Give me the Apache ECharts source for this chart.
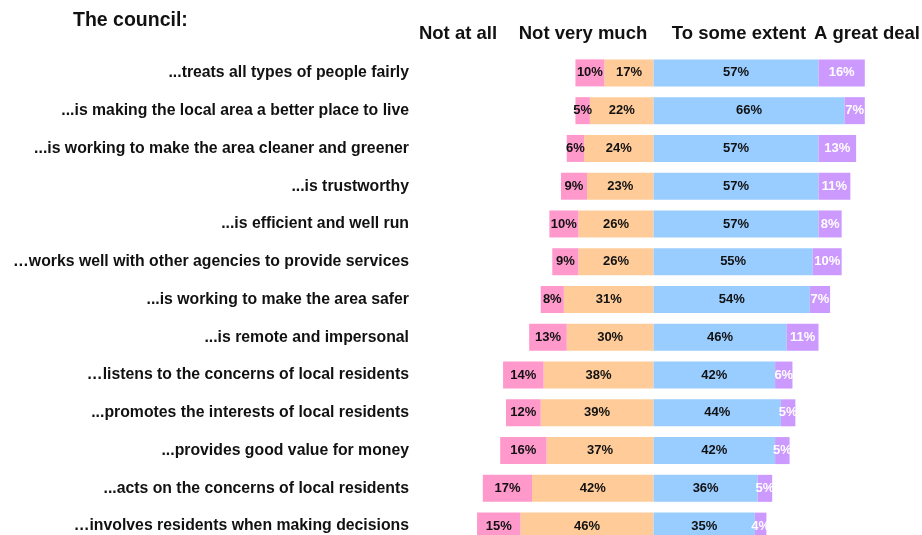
<!DOCTYPE html>
<html>
<head>
<meta charset="utf-8">
<script src="https://cdn.jsdelivr.net/npm/echarts@6/dist/echarts.min.js"></script>
<style>
  html, body { margin: 0; padding: 0; background: #fff; }
  #chart { width: 922px; height: 535px; }
</style>
</head>
<body>
<div id="chart"></div>
<script>
// Survey statements about the council, top to bottom
const categories = [
  '...treats all types of people fairly',
  '...is making the local area a better place to live',
  '...is working to make the area cleaner and greener',
  '...is trustworthy',
  '...is efficient and well run',
  '\u2026works well with other agencies to provide services',
  '...is working to make the area safer',
  '...is remote and impersonal',
  '\u2026listens to the concerns of local residents',
  '...promotes the interests of local residents',
  '...provides good value for money',
  '...acts on the concerns of local residents',
  '\u2026involves residents when making decisions'
];

// Percentages per response option
const notAtAll     = [10, 5, 6, 9, 10, 9, 8, 13, 14, 12, 16, 17, 15];
const notVeryMuch  = [17, 22, 24, 23, 26, 26, 31, 30, 38, 39, 37, 42, 46];
const toSomeExtent = [57, 66, 57, 57, 57, 55, 54, 46, 42, 44, 42, 36, 35];
const aGreatDeal   = [16, 7, 13, 11, 8, 10, 7, 11, 6, 5, 5, 5, 4];

const headers = ['Not at all', 'Not very much', 'To some extent', 'A great deal'];
const headerCenters = [458, 583, 739, 867];

const FONT = '"Liberation Sans", Arial, Helvetica, sans-serif';

const chart = echarts.init(document.getElementById('chart'), null, { renderer: 'canvas' });

function seg(name, values, sign, color, labelColor) {
  return {
    name: name,
    type: 'bar',
    stack: 'total',
    barWidth: 27,
    data: values.map(v => sign * v),
    itemStyle: { color: color },
    label: {
      show: true,
      position: 'inside',
      color: labelColor,
      fontFamily: FONT,
      fontWeight: 'bold',
      fontSize: 13,
      formatter: p => Math.abs(p.value) + '%'
    },
    emphasis: { disabled: true },
    animation: false
  };
}

const option = {
  backgroundColor: '#ffffff',
  animation: false,
  grid: {
    left: 451, right: 8, top: 54, height: 491,
    containLabel: false,
    outerBoundsMode: 'none'
  },
  xAxis: {
    type: 'value',
    min: -70,
    max: 90,
    show: false
  },
  yAxis: {
    type: 'category',
    data: categories,
    inverse: true,
    axisLine: { show: false },
    axisTick: { show: false },
    splitLine: { show: false },
    axisLabel: {
      margin: 42,
      color: '#111',
      fontFamily: FONT,
      fontWeight: 'bold',
      fontSize: 15.8
    }
  },
  graphic: [
    {
      type: 'text',
      x: 73,
      y: 21,
      style: {
        text: 'The council:',
        fill: '#111',
        font: 'bold 19.5px ' + FONT,
        textVerticalAlign: 'middle'
      }
    }
  ].concat(headers.map((h, i) => ({
    type: 'text',
    x: headerCenters[i],
    y: 34,
    style: {
      text: h,
      fill: '#111',
      font: 'bold 18.5px ' + FONT,
      textAlign: 'center',
      textVerticalAlign: 'middle'
    }
  }))),
  series: [
    seg('Not very much', notVeryMuch, -1, '#ffcc99', '#111'),
    seg('Not at all', notAtAll, -1, '#ff99cc', '#111'),
    seg('To some extent', toSomeExtent, 1, '#99ccff', '#111'),
    seg('A great deal', aGreatDeal, 1, '#cc99ff', '#ffffff')
  ]
};

chart.setOption(option);
</script>
</body>
</html>
